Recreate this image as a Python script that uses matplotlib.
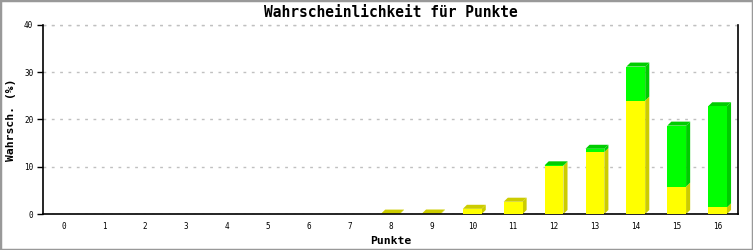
import matplotlib
matplotlib.use("Agg")
import matplotlib.pyplot as plt
from matplotlib.patches import Polygon, Rectangle

# Wahrscheinlichkeit je Punktzahl (in %), zwei gestapelte Anteile
punkte = list(range(17))
gelb = [0, 0, 0, 0, 0, 0, 0, 0, 0.08, 0.1, 1.1, 2.6, 10.2, 13.1, 24.0, 5.8, 1.4]
gruen = [0, 0, 0, 0, 0, 0, 0, 0, 0, 0, 0, 0, 0.1, 0.7, 7.2, 12.9, 21.4]
yticks = [0, 10, 20, 30, 40]

FRONT = {"gelb": "#ffff00", "gruen": "#00ff00"}
SHADE = {"gelb": "#cccc00", "gruen": "#00cc00"}
MONO = "DejaVu Sans Mono"

fig = plt.figure(figsize=(7.53, 2.5), dpi=100)
ax = fig.add_axes([43 / 753, 1 - 214 / 250, 695 / 753, 189 / 250])

width = 0.46
dx, dy = 0.1, 0.85  # pseudo-3D depth in data units


def draw_segment(x, bottom, height, key, top_face):
    x0, x1 = x - width / 2, x + width / 2
    t = bottom + height
    ax.add_patch(Rectangle((x0, bottom), width, height, facecolor=FRONT[key],
                           edgecolor="none", zorder=3))
    ax.add_patch(Polygon([(x1, bottom), (x1 + dx, bottom + dy), (x1 + dx, t + dy), (x1, t)],
                         closed=True, facecolor=SHADE[key], edgecolor="none", zorder=2))
    if top_face:
        ax.add_patch(Polygon([(x0, t), (x0 + dx, t + dy), (x1 + dx, t + dy), (x1, t)],
                             closed=True, facecolor=SHADE[key], edgecolor="none", zorder=2))


for x, g, r in zip(punkte, gelb, gruen):
    if g > 0:
        draw_segment(x, 0, g, "gelb", top_face=(r == 0))
    if r > 0:
        draw_segment(x, g, r, "gruen", top_face=True)

ax.set_xlim(-0.5, 16.5)
ax.set_ylim(0, 40)
ax.set_xticks(punkte)
ax.set_xticklabels([str(p) for p in punkte], family=MONO, fontsize=5.5)
ax.set_yticks(yticks)
ax.set_yticklabels([str(v) for v in yticks], family=MONO, fontsize=5.5)
ax.tick_params(axis="x", length=0, pad=6)
ax.tick_params(axis="y", length=4, width=1, pad=3)

ax.yaxis.grid(True, color="#c0c0c0", linestyle=(0, (2, 4)), linewidth=1)
ax.set_axisbelow(True)
ax.spines["top"].set_visible(False)
for s in ("left", "right", "bottom"):
    ax.spines[s].set_linewidth(1.2)
# gridline at 40 acts as top border
ax.axhline(40, color="#c0c0c0", linestyle=(0, (2, 4)), linewidth=1, clip_on=False, zorder=1)

ax.set_title("Wahrscheinlichkeit für Punkte", family=MONO, fontweight="bold",
             fontsize=10.5, pad=6)
ax.set_xlabel("Punkte", family=MONO, fontweight="bold", fontsize=8.2, labelpad=3)
ax.set_ylabel("Wahrsch. (%)", family=MONO, fontweight="bold", fontsize=8.2, labelpad=6)

fig.patches.append(Rectangle((0, 0), 1, 1, transform=fig.transFigure, fill=False,
                             edgecolor="#999999", linewidth=2.5))

fig.savefig("out.png", dpi=100)
